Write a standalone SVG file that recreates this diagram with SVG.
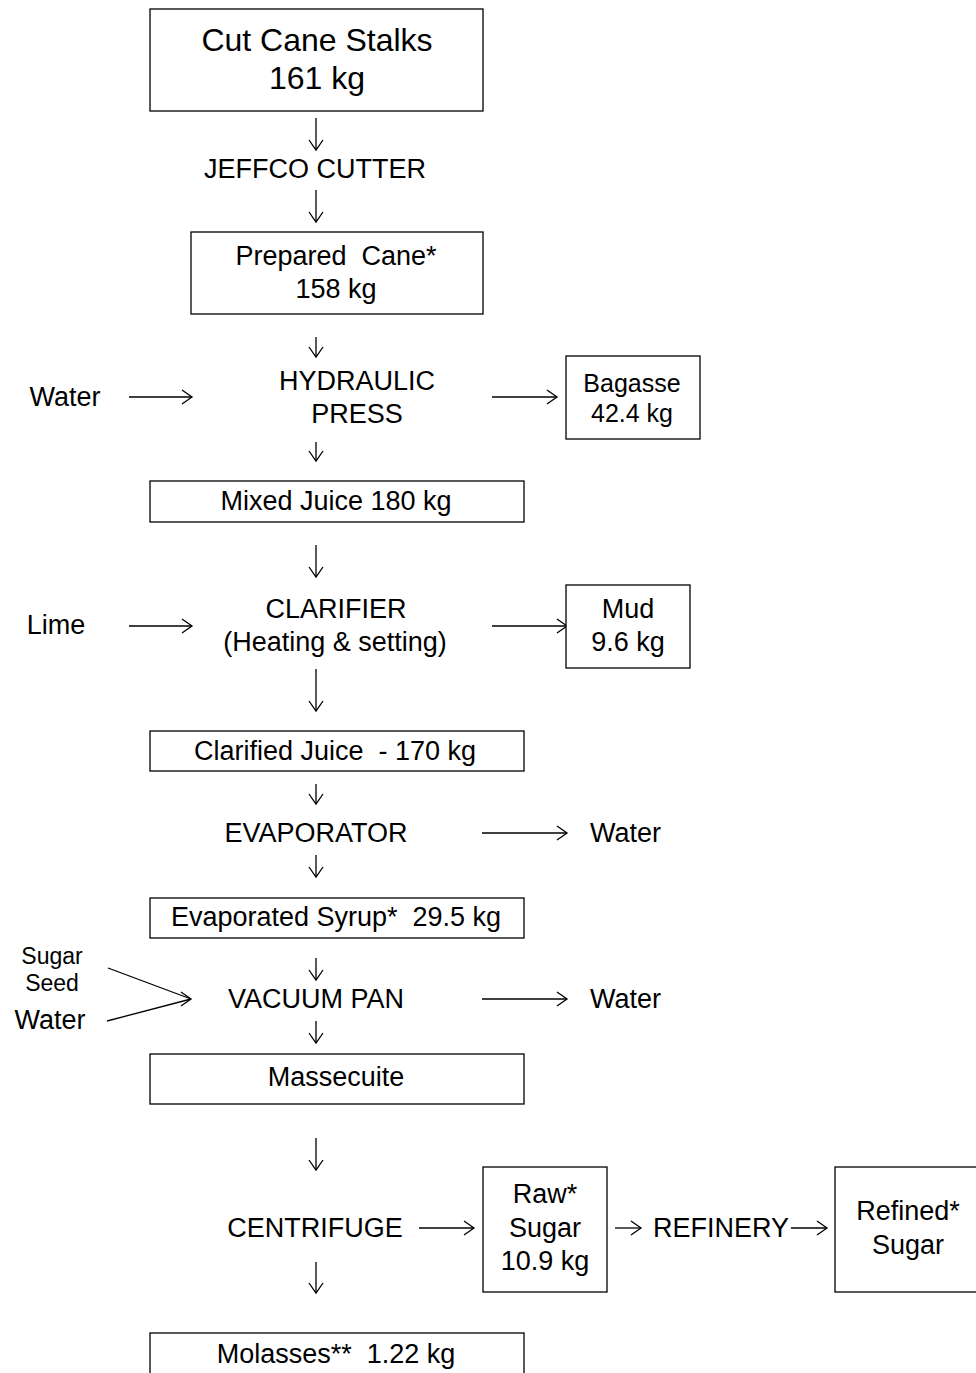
<svg xmlns="http://www.w3.org/2000/svg" width="976" height="1373" viewBox="0 0 976 1373">
<style>
text{font-family:"Liberation Sans",Arial,sans-serif;fill:#000;text-anchor:middle}
.t27{font-size:27px}
.t32{font-size:32px}
.t25{font-size:25px}
.t23{font-size:23px}
.box{fill:#fff;stroke:#000;stroke-width:1.3}
.ar{stroke:#000;stroke-width:1.3;fill:none;marker-end:url(#ah)}
.l{text-anchor:start}
</style>
<defs>
<marker id="ah" markerUnits="userSpaceOnUse" markerWidth="24" markerHeight="24" refX="12" refY="12" orient="auto" viewBox="0 0 24 24">
<path d="M2,5 L12,12 L2,19" fill="none" stroke="#000" stroke-width="1.3"/>
</marker>
</defs>
<rect width="976" height="1373" fill="#fff"/>
<g id="connectors">
<line class="ar" x1="316" y1="118" x2="316" y2="150"/>
<line class="ar" x1="316" y1="190" x2="316" y2="222"/>
<line class="ar" x1="316" y1="337" x2="316" y2="357"/>
<line class="ar" x1="316" y1="442" x2="316" y2="461"/>
<line class="ar" x1="316" y1="545" x2="316" y2="577"/>
<line class="ar" x1="316" y1="669" x2="316" y2="711"/>
<line class="ar" x1="316" y1="784" x2="316" y2="804"/>
<line class="ar" x1="316" y1="855" x2="316" y2="877"/>
<line class="ar" x1="316" y1="958" x2="316" y2="980"/>
<line class="ar" x1="316" y1="1021" x2="316" y2="1043"/>
<line class="ar" x1="316" y1="1138" x2="316" y2="1170"/>
<line class="ar" x1="316" y1="1262" x2="316" y2="1293"/>
<line class="ar" x1="129" y1="397" x2="192" y2="397"/>
<line class="ar" x1="492" y1="397" x2="557" y2="397"/>
<line class="ar" x1="129" y1="626" x2="192" y2="626"/>
<line class="ar" x1="492" y1="626" x2="567" y2="626"/>
<line class="ar" x1="482" y1="833" x2="567" y2="833"/>
<line class="ar" x1="482" y1="999" x2="567" y2="999"/>
<line class="ar" x1="419" y1="1228" x2="474" y2="1228"/>
<line class="ar" x1="615" y1="1228" x2="641" y2="1228"/>
<line class="ar" x1="791" y1="1228" x2="827" y2="1228"/>
<line x1="108" y1="968" x2="191" y2="999" stroke="#000" stroke-width="1.3"/>
<line x1="107" y1="1021" x2="191" y2="999" stroke="#000" stroke-width="1.3"/>
<path d="M181,992 L191,999 L181,1006" fill="none" stroke="#000" stroke-width="1.3"/>
</g>
<g id="cut-cane">
<rect class="box" x="150" y="9" width="333" height="102"/>
<text class="t32" x="317" y="51">Cut Cane Stalks</text>
<text class="t32" x="317" y="89">161 kg</text>
</g>
<g id="jeffco">
<text class="t27" x="315" y="178">JEFFCO CUTTER</text>
</g>
<g id="prepared">
<rect class="box" x="191" y="232" width="292" height="82"/>
<text class="t27" x="336" y="265" xml:space="preserve">Prepared  Cane*</text>
<text class="t27" x="336" y="298">158 kg</text>
</g>
<g id="water1">
<text class="t27" x="65" y="406">Water</text>
</g>
<g id="press">
<text class="t27" x="357" y="390">HYDRAULIC</text>
<text class="t27" x="357" y="423">PRESS</text>
</g>
<g id="bagasse">
<rect class="box" x="566" y="356" width="134" height="83"/>
<text class="t25" x="632" y="392">Bagasse</text>
<text class="t25" x="632" y="422">42.4 kg</text>
</g>
<g id="mixed">
<rect class="box" x="150" y="481" width="374" height="41"/>
<text class="t27" x="336" y="510">Mixed Juice 180 kg</text>
</g>
<g id="lime">
<text class="t27" x="56" y="634">Lime</text>
</g>
<g id="clarifier">
<text class="t27" x="336" y="618">CLARIFIER</text>
<text class="t27" x="335" y="651">(Heating &amp; setting)</text>
</g>
<g id="mud">
<rect class="box" x="566" y="585" width="124" height="83"/>
<text class="t27" x="628" y="618">Mud</text>
<text class="t27" x="628" y="651">9.6 kg</text>
</g>
<g id="clarified">
<rect class="box" x="150" y="731" width="374" height="40"/>
<text class="t27" x="335" y="760" xml:space="preserve">Clarified Juice  - 170 kg</text>
</g>
<g id="evaporator">
<text class="t27" x="316" y="842">EVAPORATOR</text>
</g>
<g id="water2">
<text class="t27 l" x="590" y="842">Water</text>
</g>
<g id="syrup">
<rect class="box" x="150" y="898" width="374" height="40"/>
<text class="t27" x="336" y="926" xml:space="preserve">Evaporated Syrup*  29.5 kg</text>
</g>
<g id="seed">
<text class="t23" x="52" y="964">Sugar</text>
<text class="t23" x="52" y="991">Seed</text>
</g>
<g id="water3">
<text class="t27" x="50" y="1029">Water</text>
</g>
<g id="vacuum">
<text class="t27" x="316" y="1008">VACUUM PAN</text>
</g>
<g id="water4">
<text class="t27 l" x="590" y="1008">Water</text>
</g>
<g id="massecuite">
<rect class="box" x="150" y="1054" width="374" height="50"/>
<text class="t27" x="336" y="1086">Massecuite</text>
</g>
<g id="centrifuge">
<text class="t27" x="315" y="1237">CENTRIFUGE</text>
</g>
<g id="raw">
<rect class="box" x="483" y="1167" width="124" height="125"/>
<text class="t27" x="545" y="1203">Raw*</text>
<text class="t27" x="545" y="1237">Sugar</text>
<text class="t27" x="545" y="1270">10.9 kg</text>
</g>
<g id="refinery">
<text class="t27" x="721" y="1237">REFINERY</text>
</g>
<g id="refined">
<rect class="box" x="835" y="1167" width="145" height="125"/>
<text class="t27" x="908" y="1220">Refined*</text>
<text class="t27" x="908" y="1254">Sugar</text>
</g>
<g id="molasses">
<rect class="box" x="150" y="1333" width="374" height="50"/>
<text class="t27" x="336" y="1363" xml:space="preserve">Molasses**  1.22 kg</text>
</g>
</svg>
